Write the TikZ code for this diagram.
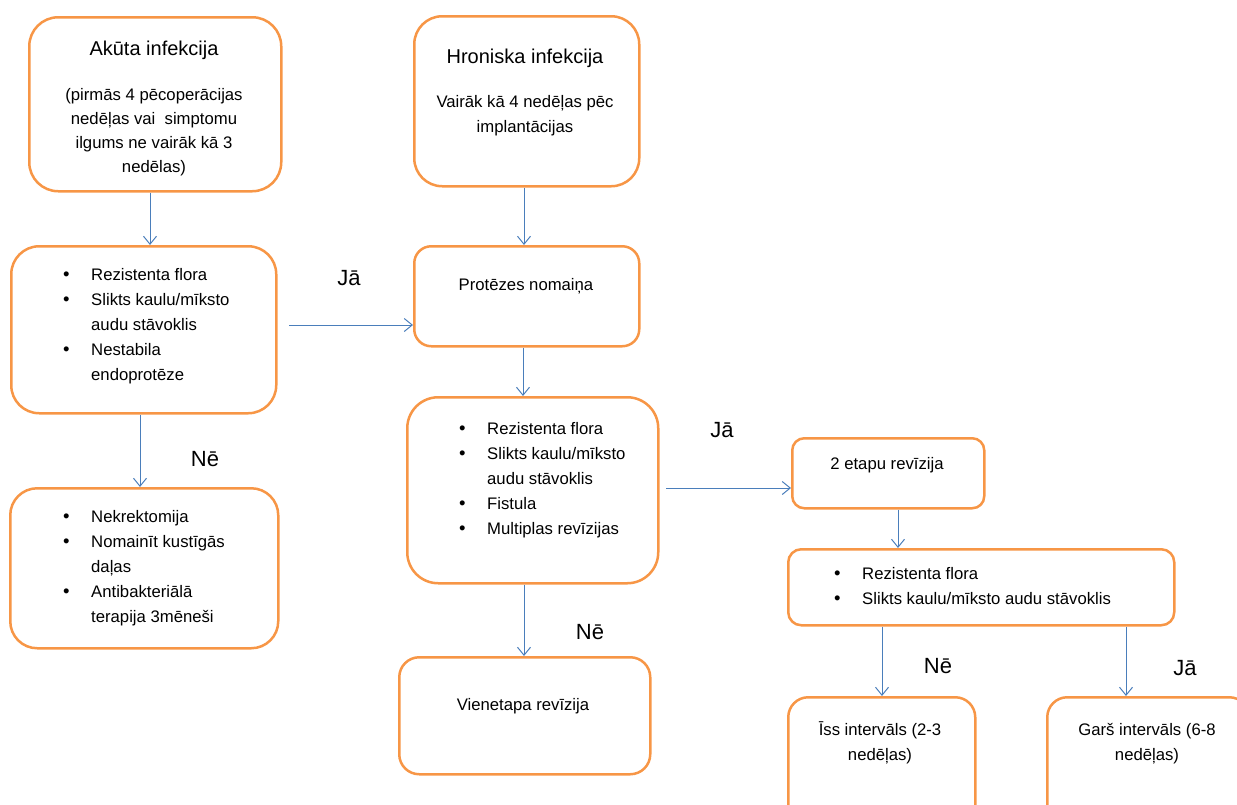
\documentclass[tikz,border=0pt]{standalone}
\usepackage{fontspec}
\setmainfont{Liberation Sans}
\usetikzlibrary{arrows.meta}
\definecolor{boxorange}{HTML}{F79646}
\definecolor{arrblue}{HTML}{4A7EBB}
\newcommand{\clines}[1]{\begin{tabular}[t]{@{}c@{}}#1\end{tabular}}
\newcommand{\blist}[1]{\begin{tabular}[t]{@{}p{28pt}@{}l@{}}#1\end{tabular}}
\newcommand{\bul}{{\fontsize{18.5}{25}\selectfont\textbullet}}
\tikzset{
  box/.style={draw=boxorange, line width=2.5pt, fill=white, inner sep=0pt, anchor=north west},
  arr/.style={draw=arrblue, line width=1pt, -{Straight Barb[length=8pt,width=13pt,line width=1pt]}},
  body/.style={font=\fontsize{16.7}{25}\selectfont, inner sep=0pt, anchor=base},
  bodyl/.style={body, anchor=base west},
  title/.style={font=\fontsize{20}{25}\selectfont, inner sep=0pt, anchor=base},
  answer/.style={font=\fontsize{22}{26}\selectfont, inner sep=0pt, anchor=base}
}
\begin{document}
\begin{tikzpicture}[x=1pt,y=-1pt]
\useasboundingbox (0,0) rectangle (1237,804);
\clip (0,0) rectangle (1237,804);
% boxes
\node[box, minimum width=252pt, minimum height=174pt, rounded corners=29pt] (acute) at (28,16) {};
\node[box, minimum width=225pt, minimum height=170pt, rounded corners=28pt] (chron) at (413,15) {};
\node[box, minimum width=265pt, minimum height=167pt, rounded corners=28pt] (risk1) at (10,245) {};
\node[box, minimum width=268pt, minimum height=160pt, rounded corners=27pt] (dair) at (9,487) {};
\node[box, minimum width=225pt, minimum height=100pt, rounded corners=17pt] (prot) at (413,245) {};
\node[box, minimum width=251pt, minimum height=186pt, rounded corners=31pt] (risk2) at (406,396) {};
\node[box, minimum width=192pt, minimum height=70pt, rounded corners=12pt] (two) at (791,437) {};
\node[box, minimum width=251pt, minimum height=117pt, rounded corners=20pt] (one) at (398,656) {};
\node[box, minimum width=386pt, minimum height=76pt, rounded corners=13pt] (risk3) at (787,548) {};
\node[box, minimum width=187pt, minimum height=130pt, rounded corners=20pt] (short) at (787,696) {};
\node[box, minimum width=202pt, minimum height=130pt, rounded corners=20pt] (long) at (1046,696) {};
% texts
\node[title] (t1) at (154,55) {Akūta infekcija};
\node[body, font=\fontsize{16.7}{24}\selectfont] (t1b) at (154,100) {\clines{(pirmās 4 pēcoperācijas\\nedēļas vai\ \ simptomu\\ilgums ne vairāk kā 3\\nedēlas)}};
\node[title] (t2) at (525,63) {Hroniska infekcija};
\node[body] (t2b) at (525,107) {\clines{Vairāk kā 4 nedēļas pēc\\implantācijas}};
\node[bodyl] (t3) at (63,280) {\blist{\bul & Rezistenta flora\\\bul & Slikts kaulu/mīksto\\ & audu stāvoklis\\\bul & Nestabila\\ & endoprotēze}};
\node[bodyl] (t4) at (63,522) {\blist{\bul & Nekrektomija\\\bul & Nomainīt kustīgās\\ & daļas\\\bul & Antibakteriālā\\ & terapija 3mēneši}};
\node[body] (t5) at (526,290) {Protēzes nomaiņa};
\node[bodyl] (t6) at (459,434) {\blist{\bul & Rezistenta flora\\\bul & Slikts kaulu/mīksto\\ & audu stāvoklis\\\bul & Fistula\\\bul & Multiplas revīzijas}};
\node[body] (t7) at (887,469) {2 etapu revīzija};
\node[body] (t8) at (523,710) {Vienetapa revīzija};
\node[bodyl] (t9) at (834,579) {\blist{\bul & Rezistenta flora\\\bul & Slikts kaulu/mīksto audu stāvoklis}};
\node[body] (t10) at (880,735) {\clines{Īss intervāls (2-3\\nedēļas)}};
\node[body] (t11) at (1147,735) {\clines{Garš intervāls (6-8\\nedēļas)}};
% answers
\node[answer] (a1) at (349,285) {Jā};
\node[answer] (a2) at (205,466) {Nē};
\node[answer] (a3) at (722,437) {Jā};
\node[answer] (a4) at (590,639) {Nē};
\node[answer] (a5) at (938,673) {Nē};
\node[answer] (a6) at (1185,675) {Jā};
% connectors
\coordinate (s1) at (289,325);
\coordinate (s2) at (666,488);
\draw[arr] (150,0 |- acute.south) -- (150,0 |- risk1.north);
\draw[arr] (140,0 |- risk1.south) -- (140,0 |- dair.north);
\draw[arr] (s1) -- (s1 -| prot.west);
\draw[arr] (524,0 |- chron.south) -- (524,0 |- prot.north);
\draw[arr] (523,0 |- prot.south) -- (523,0 |- risk2.north);
\draw[arr] (s2) -- (s2 -| two.west);
\draw[arr] (524,0 |- risk2.south) -- (524,0 |- one.north);
\draw[arr] (898,0 |- two.south) -- (898,0 |- risk3.north);
\draw[arr] (882,0 |- risk3.south) -- (882,0 |- short.north);
\draw[arr] (1126,0 |- risk3.south) -- (1126,0 |- long.north);
\end{tikzpicture}
\end{document}
